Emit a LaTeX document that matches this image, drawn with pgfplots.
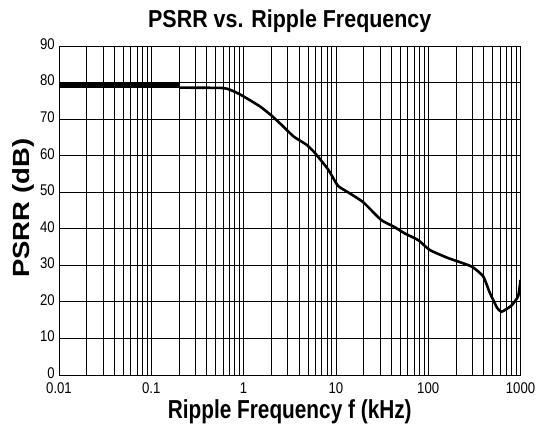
\documentclass[border=0pt]{standalone}
\usepackage{pgfplots}
\pgfplotsset{compat=1.18}
\usepackage{graphicx}
\usepackage{fontspec}
\setmainfont[FakeStretch=0.85]{Liberation Sans}
\newfontfamily\titlefont[FakeStretch=0.875]{Liberation Sans}
\newfontfamily\xlfont[FakeStretch=0.8]{Liberation Sans}
\newfontfamily\plainfont{Liberation Sans}
\begin{document}
\begin{tikzpicture}[x=1pt,y=1pt]
\path (-59,-57) rectangle (486,375);
\begin{axis}[
  at={(0,0)}, anchor=south west,
  scale only axis, width=461.5pt, height=329pt,
  xmode=log, xmin=0.01, xmax=1000, ymin=0, ymax=90,
  xtick={0.01,0.1,1,10,100,1000},
  xticklabels={0.01,0.1,1,10,100,1000},
  ytick={0,10,...,90},
  grid=both,
  major grid style={black, line width=0.8pt},
  minor grid style={black, line width=0.8pt},
  axis line style={black, line width=0.9pt},
  major tick length=0pt, minor tick length=0pt,
  /pgf/number format/assume math mode=true,
  tick label style={font=\fontsize{15.5}{18}\selectfont},
  xticklabel style={anchor=base, yshift=-18.5pt},
  yticklabel style={anchor=east, inner sep=0pt, xshift=-4pt, yshift=2pt},
  title={PSRR vs. Ripple Frequency},
  title style={font=\fontsize{24.5}{28}\titlefont\bfseries, at={(axis description cs:0.5,1)}, anchor=base, yshift=13pt},
  xlabel={Ripple Frequency f (kHz)},
  xlabel style={font=\fontsize{26}{30}\xlfont\bfseries, at={(axis description cs:0.5,0)}, anchor=base, yshift=-43pt},
  ylabel={\scalebox{1}[0.85]{PSRR (dB)}},
  ylabel style={font=\fontsize{27.5}{30}\plainfont\bfseries, at={(axis description cs:-0.063,0.507)}, anchor=base, rotate=0},
]
\addplot[black, line width=5pt, line cap=butt] coordinates {(0.01,79.2) (0.2,79.2)};
\addplot[black, line width=2.6pt, smooth, tension=0.3] coordinates {
(0.2,78.6) (0.6,78.5) (0.8,77.5) (1,76.2) (1.5,73.5) (2,71) (2.56,68.5) (3.5,65.2) (4.8,63) (5.9,60.8) (8.2,56.3) (10.5,51.8) (13.5,50) (19.7,47.3) (31,42.4) (43,40.5) (56,38.7) (78,36.9) (104,34.2) (164,32) (294,29.7) (394,27) (465,22.5) (560,18.3) (622,17.3) (700,18) (800,19) (944,21.6) (1000,26)
};
\end{axis}
\end{tikzpicture}
\end{document}
